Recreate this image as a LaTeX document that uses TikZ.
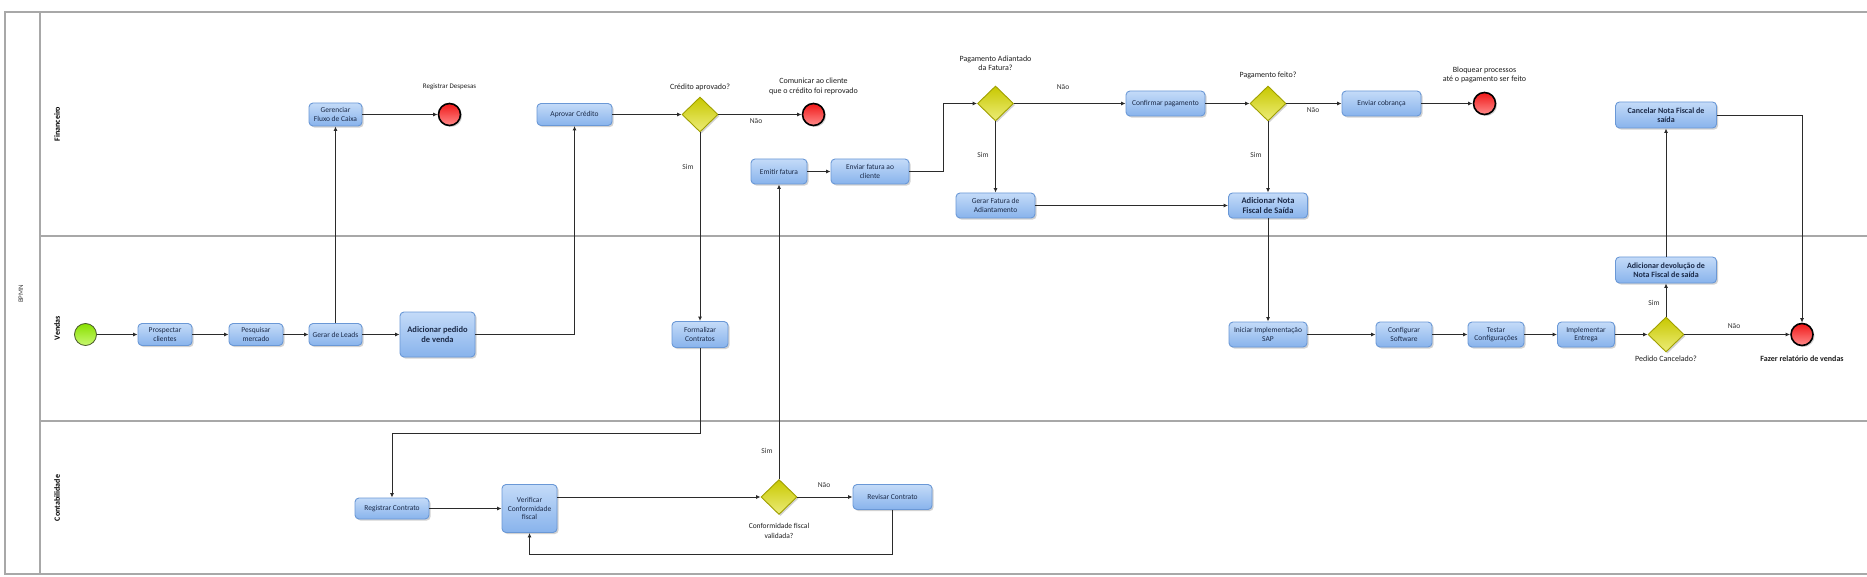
\documentclass[tikz,border=0pt]{standalone}
\usepackage{fontspec}
\setmainfont{Carlito}
\usetikzlibrary{shapes.geometric,arrows.meta,shadows,calc}
\definecolor{tasktop}{HTML}{C4DBF8}
\definecolor{taskbot}{HTML}{88B3EC}
\definecolor{taskborder}{HTML}{6A98D6}
\definecolor{tasktext}{HTML}{1B2A48}
\definecolor{gwtop}{HTML}{C8C800}
\definecolor{gwbot}{HTML}{ECEC78}
\definecolor{gwborder}{HTML}{A0A000}
\definecolor{endtop}{HTML}{F01818}
\definecolor{endbot}{HTML}{FF8A8A}
\definecolor{sttop}{HTML}{88E000}
\definecolor{stbot}{HTML}{C8F870}
\definecolor{stborder}{HTML}{4A5A2A}
\definecolor{flowc}{HTML}{2B2B2B}
\definecolor{poolc}{HTML}{A8A8A8}
\newcommand\fTask{\fontsize{7.5}{8.5}\selectfont}
\newcommand\fBig{\fontsize{8.5}{10}\selectfont\bfseries}
\newcommand\fMid{\fontsize{8}{9.5}\selectfont\bfseries}
\newcommand\fLbl{\fontsize{8}{9.5}\selectfont}
\newcommand\fSmall{\fontsize{7}{8}\selectfont}
\newcommand\fYN{\fontsize{7.5}{8}\selectfont}
\newcommand\fLane{\fontsize{8}{9}\selectfont\bfseries}
\begin{document}
\begin{tikzpicture}[x=1pt,y=-1pt,
  task/.style={rectangle, rounded corners=4pt, draw=taskborder, line width=0.9pt,
    top color=tasktop, bottom color=taskbot, text=tasktext, font=\fTask,
    align=center, inner sep=1pt,
    drop shadow={shadow xshift=1.6pt, shadow yshift=-1.6pt, fill=black!35, opacity=0.5}},
  sz/.style 2 args={minimum width=#1pt, minimum height=#2pt},
  gw/.style={diamond, draw=gwborder, line width=0.9pt, top color=gwtop, bottom color=gwbot,
    minimum width=36pt, minimum height=35pt, inner sep=0pt,
    drop shadow={shadow xshift=1.5pt, shadow yshift=-1.5pt, fill=black!35, opacity=0.5}},
  endev/.style={circle, draw=black, line width=1.6pt, top color=endtop, bottom color=endbot,
    minimum size=22pt, inner sep=0pt,
    drop shadow={shadow xshift=1.5pt, shadow yshift=-1.5pt, fill=black!35, opacity=0.5}},
  startev/.style={circle, draw=stborder, line width=0.8pt, top color=sttop, bottom color=stbot,
    minimum size=22pt, inner sep=0pt},
  lbl/.style={font=\fLbl, text=black!88, align=center, inner sep=0pt},
  yn/.style={font=\fYN, text=black!80, inner sep=0pt},
  lane/.style={font=\fLane, text=black, rotate=90, inner sep=0pt},
  flow/.style={draw=flowc, line width=0.9pt, -{Latex[length=4.5pt,width=4pt]}},
  pool/.style={draw=poolc, line width=1.1pt}
]
\useasboundingbox (0,0) rectangle (1867,577);
\fill[white] (0,0) rectangle (1867,577);

% pool and lanes
\draw[pool] (1867,12) -- (5,12) -- (5,574) -- (1867,574);
\draw[pool] (40,12) -- (40,574);
\draw[pool] (40,236) -- (1867,236);
\draw[pool] (40,421) -- (1867,421);
\node[font=\fontsize{7}{8}\selectfont, text=black!75, rotate=90, inner sep=0pt] (pooltitle) at (21,294) {BPMN};
\node[lane] (lfin) at (57,124) {Financeiro};
\node[lane] (lven) at (57,328) {Vendas};
\node[lane] (lcon) at (57,498) {Contabilidade};

% ---------- Financeiro ----------
\node[task, sz={53}{23}] (gfc) at (335.5,114.5) {Gerenciar\\Fluxo de Caixa};
\node[endev] (e1) at (449.5,114.5) {};
\node[lbl, font=\fSmall] (le1) at (449.5,87) {Registrar Despesas};

\node[task, sz={75}{22}] (ac) at (574.5,114.5) {Aprovar Crédito};
\node[gw] (g1) at (700,114.5) {};
\node[lbl] (lg1) at (700,87) {Crédito aprovado?};
\node[endev] (e2) at (813.5,114.5) {};
\node[lbl] (le2) at (813.5,86.5) {Comunicar ao cliente\\que o crédito foi reprovado};

\node[task, sz={56}{25}] (ef) at (779,171.5) {Emitir fatura};
\node[task, sz={78}{25}] (efc) at (870,171.5) {Enviar fatura ao\\cliente};

\node[gw] (g2) at (995.5,103.5) {};
\node[lbl] (lg2) at (995.5,63.5) {Pagamento Adiantado\\da Fatura?};
\node[task, sz={79}{25}] (cp) at (1165.5,103.5) {Confirmar pagamento};
\node[gw] (g3) at (1268,103.5) {};
\node[lbl] (lg3) at (1268,75) {Pagamento feito?};
\node[task, sz={79}{25}] (ec) at (1381.5,103.5) {Enviar cobrança};
\node[endev] (e3) at (1484.5,103.5) {};
\node[lbl] (le3) at (1484.5,75) {Bloquear processos\\até o pagamento ser feito};

\node[task, sz={79}{25}] (gfa) at (995.5,205.5) {Gerar Fatura de\\Adiantamento};
\node[task, sz={79}{25}, font=\fBig] (anf) at (1268,205.5) {Adicionar Nota\\Fiscal de Saída};

\node[task, sz={101}{26}, font=\fMid] (cnf) at (1666,115) {Cancelar Nota Fiscal de\\saída};

% ---------- Vendas ----------
\node[startev] (st) at (85.5,334.5) {};
\node[task, sz={54}{22}] (pc) at (165,334.5) {Prospectar\\clientes};
\node[task, sz={54}{22}] (pm) at (256,334.5) {Pesquisar\\mercado};
\node[task, sz={53}{22}] (gl) at (335.5,334.5) {Gerar de Leads};
\node[task, sz={75}{45}, font=\fBig] (apv) at (437.5,334.5) {Adicionar pedido\\de venda};
\node[task, sz={56}{26}] (fc) at (700,334.5) {Formalizar\\Contratos};

\node[task, sz={78}{25}] (iis) at (1268,334.5) {Iniciar Implementação\\SAP};
\node[task, sz={56}{25}] (cs) at (1404,334.5) {Configurar\\Software};
\node[task, sz={56}{25}] (tc) at (1496,334.5) {Testar\\Configurações};
\node[task, sz={57}{25}] (ie) at (1586,334.5) {Implementar\\Entrega};
\node[gw] (g4) at (1666,334.5) {};
\node[lbl] (lg4) at (1666,359) {Pedido Cancelado?};
\node[task, sz={101}{26}, font=\fMid] (adn) at (1666,270) {Adicionar devolução de\\Nota Fiscal de saída};
\node[endev] (e4) at (1802,334.5) {};
\node[lbl, font=\fMid] (le4) at (1802,359) {Fazer relatório de vendas};

% ---------- Contabilidade ----------
\node[task, sz={74}{21}] (rc) at (392,508.5) {Registrar Contrato};
\node[task, sz={55}{48}] (vcf) at (529.5,508.5) {Verificar\\Conformidade\\fiscal};
\node[gw] (g5) at (779,497) {};
\node[lbl, font=\fontsize{7.5}{10}\selectfont] (lg5) at (779,530.5) {Conformidade fiscal\\validada?};
\node[task, sz={79}{25}] (rvc) at (892.5,497) {Revisar Contrato};

% helper coordinates
\coordinate (k1) at (700,433);
\coordinate (k2) at (892.5,554);
\coordinate (k3) at (943,171.5);

% ---------- flows ----------
\draw[flow] (st) -- (pc);
\draw[flow] (pc) -- (pm);
\draw[flow] (pm) -- (gl);
\draw[flow] (gl) -- (apv);
\draw[flow] (gl.north) -- (gfc.south);
\draw[flow] (gfc) -- (e1);
\draw[flow] (apv.east) -| (ac.south);
\draw[flow] (ac) -- (g1);
\draw[flow] (g1) -- (e2);
\draw[flow] (g1.south) -- (fc.north);
\draw[flow] (fc.south) -- (k1) -| (rc.north);
\draw[flow] (rc) -- (vcf);
\draw[flow] (vcf.east |- g5.west) -- (g5.west);
\draw[flow] (g5) -- (rvc);
\draw[flow] (rvc.south) -- (k2) -| (vcf.south);
\draw[flow] (g5.north) -- (ef.south);
\draw[flow] (ef) -- (efc);
\draw[flow] (efc.east) -- (k3) |- (g2.west);
\draw[flow] (g2) -- (cp);
\draw[flow] (g2.south) -- (gfa.north);
\draw[flow] (gfa) -- (anf);
\draw[flow] (cp) -- (g3);
\draw[flow] (g3) -- (ec);
\draw[flow] (g3.south) -- (anf.north);
\draw[flow] (ec) -- (e3);
\draw[flow] (anf.south) -- (iis.north);
\draw[flow] (iis) -- (cs);
\draw[flow] (cs) -- (tc);
\draw[flow] (tc) -- (ie);
\draw[flow] (ie) -- (g4);
\draw[flow] (g4.north) -- (adn.south);
\draw[flow] (adn.north) -- (cnf.south);
\draw[flow] (g4) -- (e4);
\draw[flow] (cnf.east) -| (e4.north);

% ---------- Sim / Nao labels ----------
\node[yn] (n1) at (756,121) {Não};
\node[yn] (s1) at (688,167) {Sim};
\node[yn] (n2) at (1063,87) {Não};
\node[yn] (s2) at (983,155) {Sim};
\node[yn] (n3) at (1313,110) {Não};
\node[yn] (s3) at (1256,155) {Sim};
\node[yn] (s4) at (1654,303) {Sim};
\node[yn] (n4) at (1734,326) {Não};
\node[yn] (s5) at (767,451) {Sim};
\node[yn] (n5) at (824,485) {Não};
\end{tikzpicture}
\end{document}
